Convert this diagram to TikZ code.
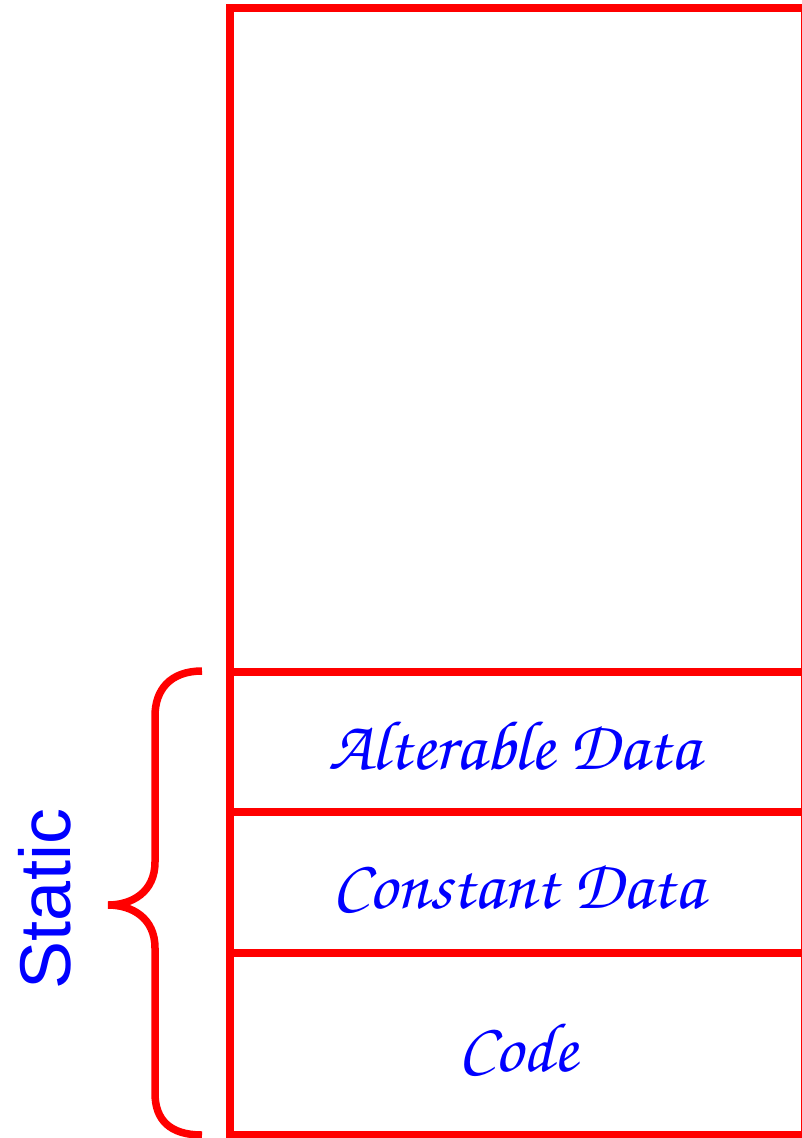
\documentclass[tikz,border=0pt]{standalone}
\usepackage{fontspec}
\usepackage[T1]{fontenc}
\newfontfamily\arialfont{Liberation Sans}
\newcommand{\chancery}{\fontencoding{T1}\fontfamily{pzc}\fontseries{mb}\fontshape{it}\selectfont}
\begin{document}
\begin{tikzpicture}[x=1pt,y=-1pt,
  box/.style={draw=red,line width=8pt},
  lbl/.style={text=blue,font=\chancery\fontsize{70}{70}\selectfont,inner sep=0pt}]
\useasboundingbox (0,0) rectangle (801,1138);
\coordinate (tl) at (230,8);
\coordinate (br) at (805,1135);
\draw[box] (tl) rectangle (br);
\coordinate (a1) at (230,672); \coordinate (a2) at (805,672);
\coordinate (b1) at (230,812); \coordinate (b2) at (805,812);
\coordinate (c1) at (230,953); \coordinate (c2) at (805,953);
\draw[box] (a1) -- (a2);
\draw[box] (b1) -- (b2);
\draw[box] (c1) -- (c2);
\node[lbl] (alt) at (514,745) {Alterable Data};
\node[lbl] (con) at (518,886) {Constant Data};
\node[lbl] (code) at (518,1047) {Code};
\coordinate (bt) at (202,671);
\coordinate (bb) at (202,1135);
\coordinate (tip) at (108,905);
\draw[draw=red,line width=7.5pt] (bt) .. controls (170,671) and (155,690) .. (155,716)
  -- (155,862) .. controls (155,892) and (132,905) .. (tip)
  .. controls (132,905) and (155,918) .. (155,948)
  -- (155,1093) .. controls (155,1120) and (170,1135) .. (bb);
\node[text=blue,font=\arialfont\fontsize{72}{72}\selectfont,rotate=90,inner sep=0pt] (static) at (45,899) {Static};
\end{tikzpicture}
\end{document}
